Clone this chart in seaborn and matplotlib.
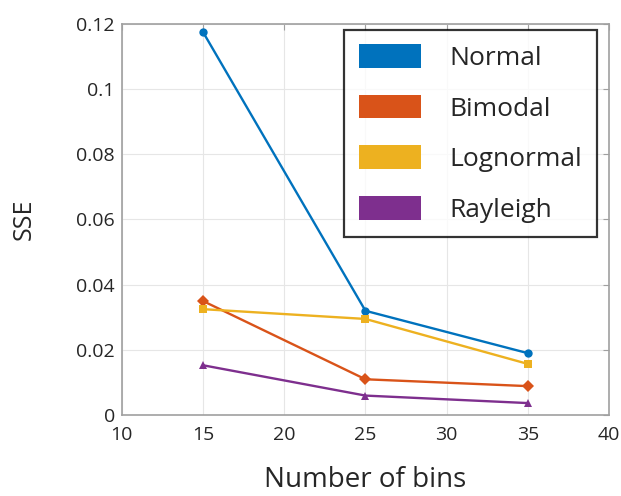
import matplotlib
matplotlib.use("Agg")
import matplotlib.pyplot as plt
from matplotlib.patches import Patch
import pandas as pd
import seaborn as sns

# ==================== Data ====================
BINS = [15, 25, 35]
SERIES = ["Normal", "Bimodal", "Lognormal", "Rayleigh"]
SSE_NORMAL = [0.1175, 0.0320, 0.0190]
SSE_BIMODAL = [0.0350, 0.0110, 0.0089]
SSE_LOGNORMAL = [0.0325, 0.0295, 0.0157]
SSE_RAYLEIGH = [0.0153, 0.0060, 0.0037]

COLORS = ["#0072BD", "#D95319", "#EDB120", "#7E2F8E"]
MARKERS = ["o", "D", "s", "^"]

sns.set_theme(style="white")
plt.rcParams.update({
    "font.family": ["Open Sans", "DejaVu Sans"],
    "xtick.direction": "in", "ytick.direction": "in",
})

df = pd.DataFrame({
    "bins": BINS * 4,
    "sse": SSE_NORMAL + SSE_BIMODAL + SSE_LOGNORMAL + SSE_RAYLEIGH,
    "dist": [s for s in SERIES for _ in BINS],
})

fig = plt.figure(figsize=(6.21, 4.96), dpi=100)
ax = fig.add_axes([0.196, 0.163, 0.785, 0.789])

sns.lineplot(data=df, x="bins", y="sse", hue="dist", style="dist",
             hue_order=SERIES, style_order=SERIES,
             palette=COLORS, markers=MARKERS, dashes=False,
             markersize=6, markeredgewidth=0, linewidth=1.7,
             legend=False, ax=ax)

ax.set_xlim(10, 40)
ax.set_ylim(0, 0.12)
ax.set_xticks([10, 15, 20, 25, 30, 35, 40])
ax.set_yticks([0, 0.02, 0.04, 0.06, 0.08, 0.1, 0.12])
ax.set_yticklabels(["0", "0.02", "0.04", "0.06", "0.08", "0.1", "0.12"])
ax.tick_params(labelsize=14, length=4, width=0.8,
               top=True, right=True)
ax.tick_params(axis="x", pad=8)
ax.tick_params(axis="y", pad=5)
ax.tick_params(axis="both", colors="#a0a0a0", labelcolor="#262626")
ax.grid(True, color="#e6e6e6", linewidth=0.8)

for spine in ax.spines.values():
    spine.set_visible(True)
    spine.set_color("#a0a0a0")
    spine.set_linewidth(1.2)

ax.set_xlabel("Number of bins", fontsize=20, color="#262626", labelpad=16)
ax.set_ylabel("SSE", fontsize=18, color="#262626", labelpad=28)

handles = [Patch(facecolor=c, edgecolor="none", label=s) for c, s in zip(COLORS, SERIES)]
leg = ax.legend(handles=handles, loc="upper right", bbox_to_anchor=(0.975, 0.985),
                frameon=True, fancybox=False, edgecolor="black", fontsize=19,
                handlelength=2.35, handleheight=1.0, handletextpad=1.1,
                labelspacing=0.9, borderpad=0.55, borderaxespad=0)
leg.get_frame().set_linewidth(1.6)

fig.savefig("out.png", dpi=100)
